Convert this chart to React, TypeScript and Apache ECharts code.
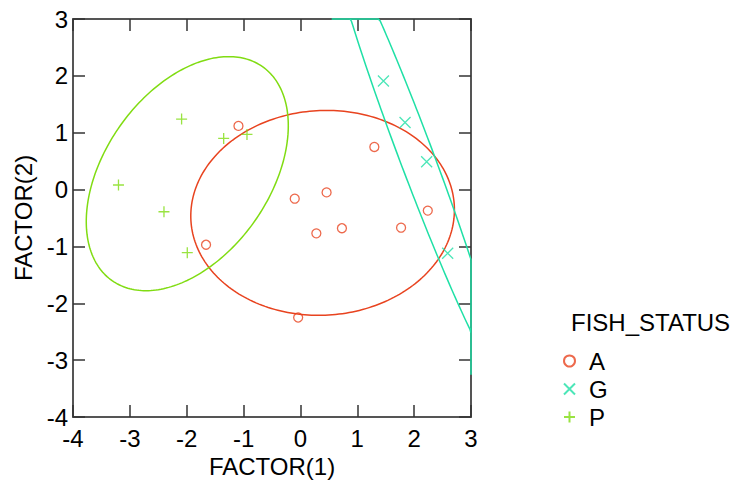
import React, { useEffect, useRef } from "react";
import * as echarts from "echarts";

// Scatter values
const aX = [-1.09, 1.3, -0.1, 0.46, 0.28, 0.73, 1.77, 2.24, -1.66, -0.04];
const aY = [1.12, 0.75, -0.16, -0.05, -0.77, -0.68, -0.67, -0.37, -0.97, -2.25];
const gX = [1.46, 1.84, 2.22, 2.59];
const gY = [1.91, 1.18, 0.49, -1.12];
const pX = [-2.09, -1.35, -0.94, -3.2, -2.4, -1.99];
const pY = [1.24, 0.9, 0.97, 0.08, -0.39, -1.11];

// Confidence ellipses: [centerX, centerY, semiMajor, semiMinor, angleDeg]
const ellipseA = [0.39, -0.41, 2.32, 1.8, 3.4];
const ellipseG = [2.03, 0.61, 4.13, 0.3, -69.4];
const ellipseP = [-1.99, 0.28, 2.3, 1.45, 54.9];

const groups = ["A", "G", "P"];
const legendTitle = "FISH_STATUS";
const xName = "FACTOR(1)";
const yName = "FACTOR(2)";
const xMin = -4, xMax = 3, yMin = -4, yMax = 3;

const RED = "#e8431f";
const TEAL = "#1fe0a6";
const LIME = "#80dc12";

const X_PATH = "path://M0,0L10,10M10,0L0,10";
const PLUS_PATH = "path://M5,0L5,10M0,5L10,5";

const zip = (xs: number[], ys: number[]) => xs.map((x, i) => [x, ys[i]]);

function ellipseSeries(name: string, params: number[], color: string) {
  return {
    type: "custom",
    name,
    data: [params],
    silent: true,
    renderItem: (_p: any, api: any) => {
      const cx = api.value(0), cy = api.value(1), a = api.value(2), b = api.value(3);
      const th = (api.value(4) * Math.PI) / 180;
      const pts: number[][] = [];
      const n = 240;
      for (let i = 0; i <= n; i++) {
        const t = (i / n) * Math.PI * 2;
        let x = cx + a * Math.cos(t) * Math.cos(th) - b * Math.sin(t) * Math.sin(th);
        let y = cy + a * Math.cos(t) * Math.sin(th) + b * Math.sin(t) * Math.cos(th);
        x = Math.max(xMin, Math.min(xMax, x));
        y = Math.max(yMin, Math.min(yMax, y));
        pts.push(api.coord([x, y]));
      }
      return {
        type: "polyline",
        shape: { points: pts },
        style: { fill: null, stroke: color, lineWidth: 1.5 },
      };
    },
  };
}

const FONT = "'Liberation Sans', Arial, sans-serif";

export default function App() {
  const ref = useRef<HTMLDivElement>(null);
  useEffect(() => {
    if (!ref.current) return;
    const chart = echarts.init(ref.current, undefined, { renderer: "svg" });
    const axisLine = { show: true, onZero: false, lineStyle: { color: "#555", width: 2 } };
    const axisTick = { show: true, inside: true, length: 12, lineStyle: { color: "#333", width: 1.5 } };
    const label = { fontSize: 24, color: "#000", fontFamily: FONT };
    chart.setOption({
      animation: false,
      backgroundColor: "#fff",
      grid: { left: 73, right: 265, top: 19, bottom: 67 },
      xAxis: [
        {
          type: "value", min: xMin, max: xMax, interval: 1, position: "bottom",
          axisLine, axisTick, splitLine: { show: false },
          axisLabel: { ...label, margin: 9 },
          name: xName, nameLocation: "middle", nameGap: 37,
          nameTextStyle: { ...label },
        },
        {
          type: "value", min: xMin, max: xMax, interval: 1, position: "top",
          axisLine, axisTick, splitLine: { show: false }, axisLabel: { show: false },
        },
      ],
      yAxis: [
        {
          type: "value", min: yMin, max: yMax, interval: 1, position: "left",
          axisLine, axisTick, splitLine: { show: false },
          axisLabel: { ...label, margin: 5 },
          name: yName, nameLocation: "middle", nameGap: 36,
          nameTextStyle: { ...label },
        },
        {
          type: "value", min: yMin, max: yMax, interval: 1, position: "right",
          axisLine, axisTick, splitLine: { show: false }, axisLabel: { show: false },
        },
      ],
      legend: {
        data: groups,
        orient: "vertical",
        left: 558,
        top: 344,
        itemWidth: 11,
        itemHeight: 11,
        itemGap: 4,
        textStyle: { fontSize: 24, color: "#000", fontFamily: FONT, padding: [0, 0, 0, 9] },
      },
      graphic: [
        {
          type: "text", left: 571, top: 310,
          style: { text: legendTitle, fontSize: 24, fill: "#000", fontFamily: FONT },
        },
      ],
      series: [
        ellipseSeries("ellA", ellipseA, RED),
        ellipseSeries("ellG", ellipseG, TEAL),
        ellipseSeries("ellP", ellipseP, LIME),
        {
          type: "scatter", name: "A", data: zip(aX, aY), symbol: "circle", symbolSize: 9,
          itemStyle: { color: "rgba(0,0,0,0)", borderColor: RED, borderWidth: 1.3 },
        },
        {
          type: "scatter", name: "G", data: zip(gX, gY), symbol: X_PATH, symbolSize: 11,
          itemStyle: { color: "rgba(0,0,0,0)", borderColor: TEAL, borderWidth: 1.3 },
        },
        {
          type: "scatter", name: "P", data: zip(pX, pY), symbol: PLUS_PATH, symbolSize: 11,
          itemStyle: { color: "rgba(0,0,0,0)", borderColor: LIME, borderWidth: 1.3 },
        },
      ],
    });
    return () => chart.dispose();
  }, []);
  return (
    <div
      ref={ref}
      style={{ position: "fixed", left: 0, top: 0, width: 736, height: 484, background: "#fff" }}
    />
  );
}
